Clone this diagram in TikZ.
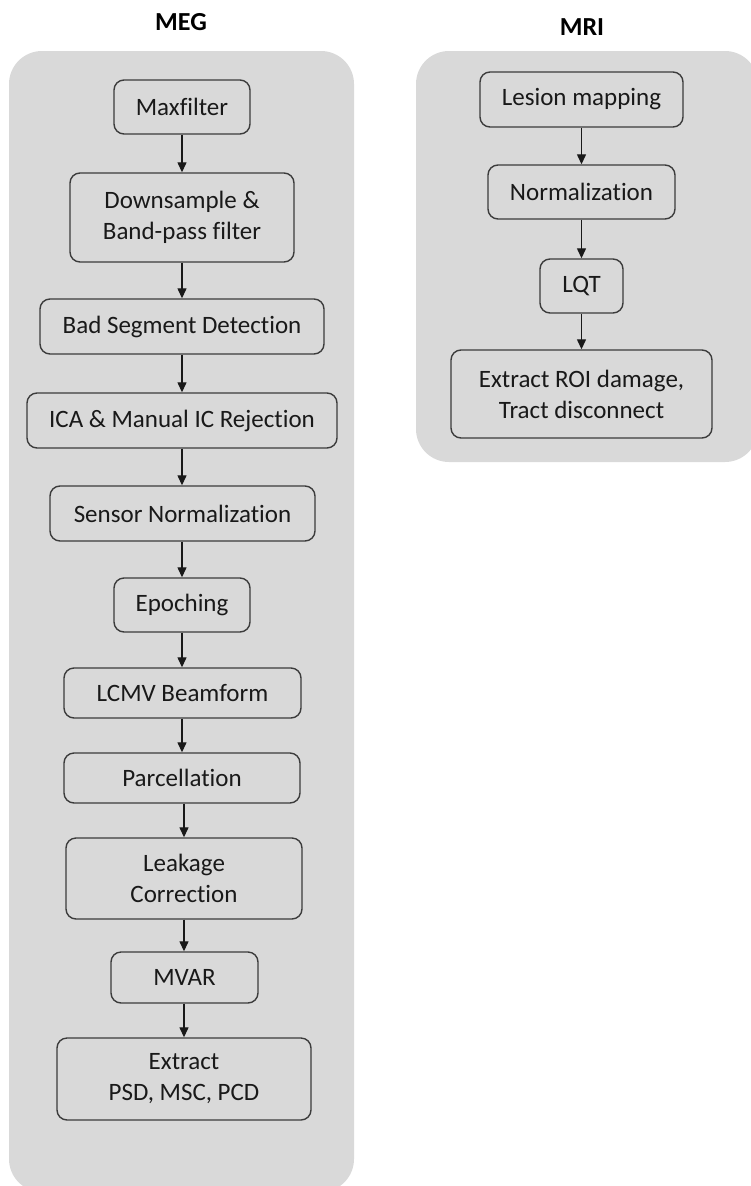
\documentclass[tikz,border=0pt]{standalone}
\usepackage{fontspec}
\setmainfont[Ligatures={NoCommon,NoRare,NoContextual}]{Carlito}
\usetikzlibrary{arrows.meta}
\definecolor{panelgray}{HTML}{D9D9D9}
\definecolor{edgegray}{HTML}{3C3C3C}
\tikzset{
  panel/.style={fill=panelgray, draw=none, rounded corners=33pt},
  stepbox/.style={draw=edgegray, line width=1.4pt, fill=panelgray, rounded corners=10pt,
    inner sep=0pt, align=center, font=\fontsize{25}{31}\selectfont, text=black!90},
  title/.style={font=\bfseries\fontsize{26}{30}\selectfont, text=black},
  flow/.style={line width=1.3pt, black!90, -{Triangle[length=10pt,width=9pt]}}
}
\begin{document}
\begin{tikzpicture}[x=1pt,y=-1pt]
\useasboundingbox (0,0) rectangle (751,1186);
\clip (0,0) rectangle (751,1186);
% panels
\fill[panel] (9,51) rectangle (354,1192);
\fill[panel] (416,51) rectangle (758,462);
% titles
\node[title] (megt) at (181,22) {MEG};
\node[title] (mrit) at (582,27) {MRI};
% MEG steps
\node[stepbox, minimum width=136pt, minimum height=54pt] (maxf) at (182,107) {Maxfilter};
\node[stepbox, minimum width=224pt, minimum height=89pt] (down) at (182,217.5) {Downsample \&\\Band-pass filter};
\node[stepbox, minimum width=284pt, minimum height=55pt] (bad) at (182,326.5) {Bad Segment Detection};
\node[stepbox, minimum width=310pt, minimum height=55pt] (ica) at (182,420.5) {ICA \& Manual IC Rejection};
\node[stepbox, minimum width=265pt, minimum height=55pt] (sens) at (182.5,513.5) {Sensor Normalization};
\node[stepbox, minimum width=136pt, minimum height=54pt] (epoch) at (182,605) {Epoching};
\node[stepbox, minimum width=237pt, minimum height=50pt] (lcmv) at (182.5,693) {LCMV Beamform};
\node[stepbox, minimum width=236pt, minimum height=50pt] (parc) at (182,778) {Parcellation};
\node[stepbox, minimum width=236pt, minimum height=81pt] (leak) at (184,878.5) {Leakage\\Correction};
\node[stepbox, minimum width=147pt, minimum height=51pt] (mvar) at (184.5,977.5) {MVAR};
\node[stepbox, minimum width=254pt, minimum height=82pt] (extr) at (184,1079) {Extract\\PSD, MSC, PCD};
% MRI steps
\node[stepbox, minimum width=203pt, minimum height=55pt] (lesion) at (581.5,99.5) {Lesion mapping};
\node[stepbox, minimum width=187pt, minimum height=54pt] (norm) at (581.5,192) {Normalization};
\node[stepbox, minimum width=83pt, minimum height=54pt] (lqt) at (581.5,286) {LQT};
\node[stepbox, minimum width=261pt, minimum height=88pt] (roi) at (581.5,394) {Extract ROI damage,\\Tract disconnect};
% connectors
\draw[flow] (maxf.south) -- (maxf.south |- down.north);
\draw[flow] (down.south) -- (down.south |- bad.north);
\draw[flow] (bad.south) -- (bad.south |- ica.north);
\draw[flow] (ica.south) -- (ica.south |- sens.north);
\draw[flow] (epoch.south |- sens.south) -- (epoch.north);
\draw[flow] (epoch.south) -- (epoch.south |- lcmv.north);
\draw[flow] (parc.south |- lcmv.south) -- (parc.north);
\draw[flow] (leak.north |- parc.south) -- (leak.north);
\draw[flow] (leak.south) -- (leak.south |- mvar.north);
\draw[flow] (extr.north |- mvar.south) -- (extr.north);
\draw[flow] (lesion.south) -- (norm.north);
\draw[flow] (norm.south) -- (lqt.north);
\draw[flow] (lqt.south) -- (roi.north);
\end{tikzpicture}
\end{document}
